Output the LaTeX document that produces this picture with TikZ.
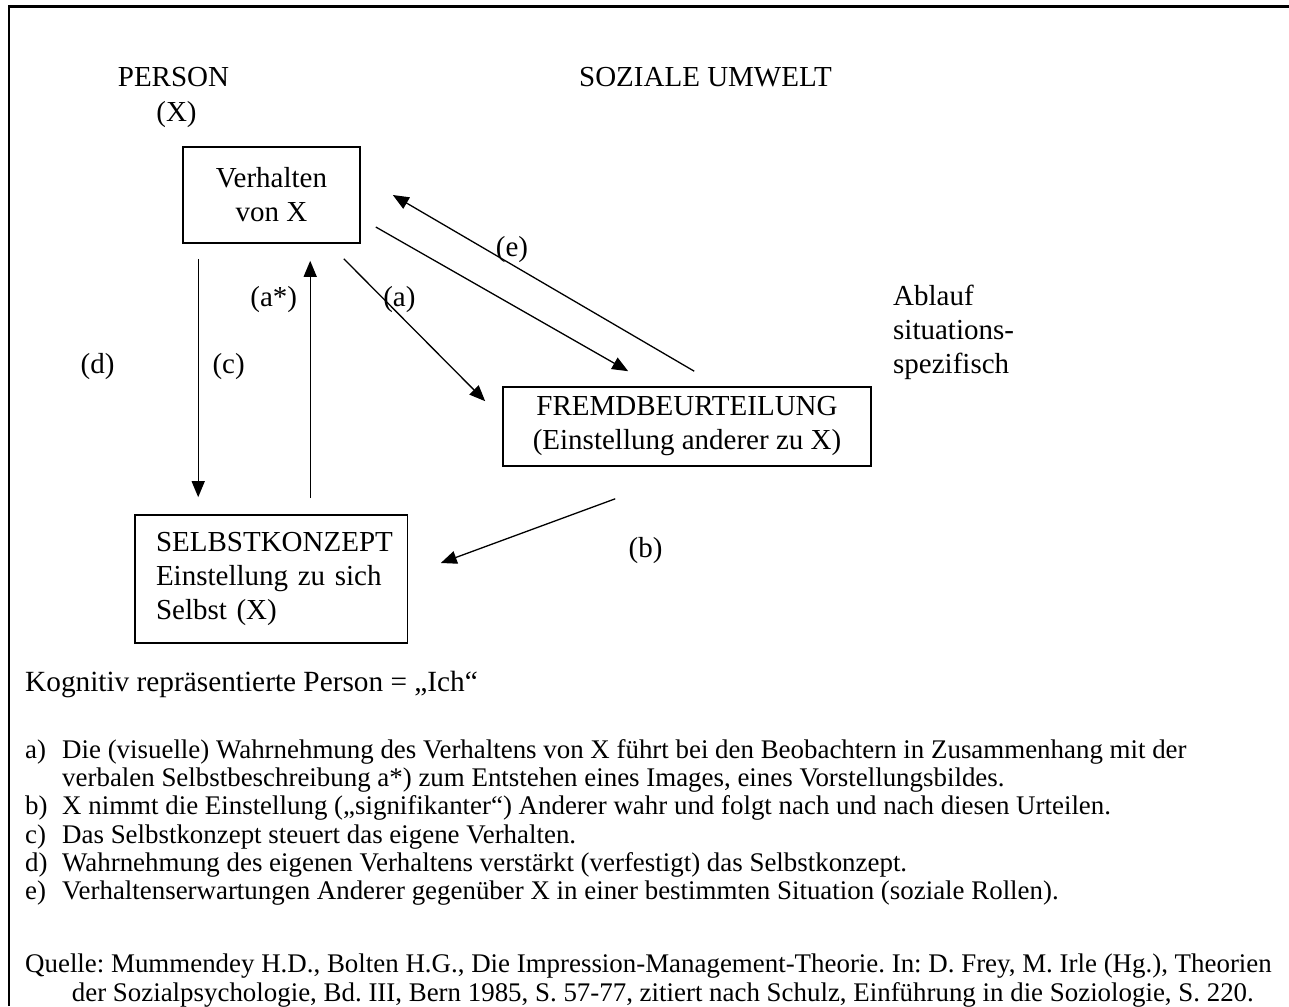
\documentclass[tikz,border=0pt]{standalone}
\usepackage{fontspec}
\setmainfont{Liberation Serif}
\usetikzlibrary{arrows.meta,calc}
\frenchspacing
\begin{document}
\begin{tikzpicture}[x=1pt,y=-1pt,
  diag/.style={font=\fontsize{29}{34}\selectfont, inner sep=0pt},
  body/.style={font=\fontsize{29.3}{34}\selectfont, inner sep=0pt, anchor=base west},
  small/.style={font=\fontsize{26.9}{28}\selectfont, inner sep=0pt, anchor=base west},
  boxnode/.style={draw, line width=1.6pt, font=\fontsize{29}{34}\selectfont, align=center, inner sep=0pt},
  arr/.style={line width=1.3pt, -{Triangle[length=16pt,width=13pt]}},
]
\useasboundingbox (0,0) rectangle (1289,1006);
\draw[line width=2.4pt] (9,1006) -- (9,6.5) -- (1289,6.5);

% headings
\node[diag, anchor=base] (person) at (173.5,86.7) {PERSON};
\node[diag, anchor=base] (px) at (176.5,121.7) {(X)};
\node[diag, anchor=base] (umwelt) at (705.5,86.7) {SOZIALE UMWELT};

% boxes
\node[boxnode, minimum width=177pt, minimum height=96pt] (verh) at (271.5,195) {Verhalten\\von X};
\node[boxnode, minimum width=368pt, minimum height=79pt] (fremd) at (687,426.5) {FREMDBEURTEILUNG\\(Einstellung anderer zu X)};
\node[boxnode, minimum width=272.5pt, minimum height=128pt, text width=230.5pt, align=left] (selbst) at (271.25,579) {\mbox{SELBSTKONZEPT}\\Einstellung zu sich\\Selbst (X)};

\node[diag, anchor=west, align=left] (ablauf) at (893,332.3) {Ablauf\\situations-\\spezifisch};

% arrows
\draw[arr] ($(verh.south west)+(16,15)$) -- ($(selbst.north west)+(64,-17)$);
\draw[arr] ($(selbst.north west)+(176,-16)$) -- ($(verh.south west)+(128,17)$);
\draw[arr] ($(verh.south east)+(-17,15)$) -- ($(fremd.north west)+(-17,15)$);
\draw[arr] ($(verh.east)+(15,32)$) -- ($(fremd.north west)+(126,-15)$);
\draw[arr] ($(fremd.north west)+(192,-15)$) -- ($(verh.east)+(32,0)$);
\draw[arr] ($(fremd.south west)+(113,32)$) -- ($(selbst.east)+(32.5,-16)$);

% arrow labels
\node[diag, anchor=base] (la) at (273.7,306.7) {(a*)};
\node[diag, anchor=base] (lA) at (399.4,306) {(a)};
\node[diag, anchor=base] (le) at (512,256.7) {(e)};
\node[diag, anchor=base] (ld) at (97.5,373.3) {(d)};
\node[diag, anchor=base] (lc) at (228.6,373.3) {(c)};
\node[diag, anchor=base] (lb) at (645.5,557) {(b)};

% bottom text
\node[body] (kog) at (25,691.7) {Kognitiv repräsentierte Person = „Ich“};

\node[small] (ma) at (25,758.5) {a)};
\node[small] (ta) at (62,758.5) {Die (visuelle) Wahrnehmung des Verhaltens von X führt bei den Beobachtern in Zusammenhang mit der};
\node[small] (ta2) at (62,786.7) {verbalen Selbstbeschreibung a*) zum Entstehen eines Images, eines Vorstellungsbildes.};
\node[small] (mb) at (25,814.9) {b)};
\node[small] (tb) at (62,814.9) {X nimmt die Einstellung („signifikanter“) Anderer wahr und folgt nach und nach diesen Urteilen.};
\node[small] (mc) at (25,843.1) {c)};
\node[small] (tc) at (62,843.1) {Das Selbstkonzept steuert das eigene Verhalten.};
\node[small] (md) at (25,871.3) {d)};
\node[small] (td) at (62,871.3) {Wahrnehmung des eigenen Verhaltens verstärkt (verfestigt) das Selbstkonzept.};
\node[small] (me) at (25,899.5) {e)};
\node[small] (te) at (62,899.5) {Verhaltenserwartungen Anderer gegenüber X in einer bestimmten Situation (soziale Rollen).};

\node[small] (q1) at (25,972) {Quelle: Mummendey H.D., Bolten H.G., Die Impression-Management-Theorie. In: D. Frey, M. Irle (Hg.), Theorien};
\node[small] (q2) at (71.7,1001) {der Sozialpsychologie, Bd. III, Bern 1985, S. 57-77, zitiert nach Schulz, Einführung in die Soziologie, S. 220.};
\end{tikzpicture}
\end{document}
